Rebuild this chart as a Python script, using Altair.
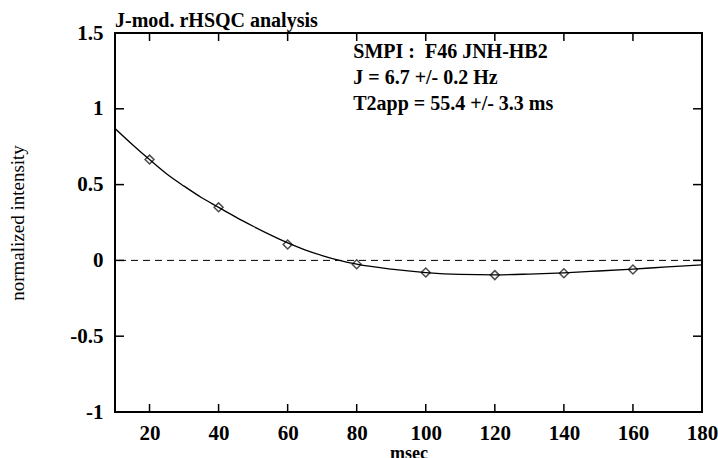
import altair as alt
import pandas as pd

# ---- data ----
point_t = [20, 40, 60, 80, 100, 120, 140, 160]
point_i = [0.665, 0.35, 0.105, -0.025, -0.08, -0.097, -0.085, -0.06]

curve_t = [10, 15, 20, 25, 30, 35, 40, 45, 50, 55, 60, 65, 70, 75, 80,
           90, 100, 110, 120, 130, 140, 150, 160, 170, 180]
curve_i = [0.87, 0.765, 0.665, 0.57, 0.49, 0.415, 0.35, 0.285, 0.225, 0.168,
           0.115, 0.07, 0.032, 0.0, -0.025, -0.058, -0.08, -0.092, -0.095,
           -0.09, -0.082, -0.07, -0.057, -0.043, -0.03]

x_ticks = [20, 40, 60, 80, 100, 120, 140, 160, 180]
y_ticks = [-1, -0.5, 0, 0.5, 1, 1.5]
inner_x_ticks = [20, 40, 60, 80, 100, 120, 140, 160]
inner_y_ticks = [-0.5, 0, 0.5, 1]

notes = ["SMPI :\u00a0\u00a0F46 JNH-HB2", "J = 6.7 +/- 0.2 Hz", "T2app = 55.4 +/- 3.3 ms"]
note_x = [79, 79, 79]
note_y = [1.335, 1.163, 0.992]

title_text = ["J-mod. rHSQC analysis"]

FONT = "Liberation Serif"
W, H = 587, 379

xs = alt.Scale(domain=[10, 180], nice=False, zero=False)
ys = alt.Scale(domain=[-1, 1.5], nice=False, zero=False)

pts = pd.DataFrame({"t": point_t, "i": point_i})
crv = pd.DataFrame({"t": curve_t, "i": curve_i})
xt = pd.DataFrame({"t": inner_x_ticks})
yt = pd.DataFrame({"v": inner_y_ticks})
nt = pd.DataFrame({"txt": notes, "x": note_x, "y": note_y})
tt = pd.DataFrame({"txt": title_text})

xaxis = alt.Axis(values=x_ticks, ticks=False, domain=False, grid=False,
                 labelFont=FONT, labelFontSize=21, labelFontWeight="bold",
                 labelColor="black", labelPadding=10, labelFlush=False,
                 title="msec", titleFont=FONT, titleFontSize=18,
                 titleFontWeight="bold", titleColor="black", titlePadding=1)
yaxis = alt.Axis(values=y_ticks, ticks=False, domain=False, grid=False,
                 labelFont=FONT, labelFontSize=21, labelFontWeight="bold",
                 labelColor="black", labelPadding=12, labelFlush=False,
                 labelExpr="'' + datum.value",
                 title="normalized intensity", titleFont=FONT, titleFontSize=19,
                 titleFontWeight="normal", titleColor="black", titlePadding=42)

line = alt.Chart(crv).mark_line(color="black", strokeWidth=1.3,
                                interpolate="monotone", clip=True).encode(
    x=alt.X("t:Q", scale=xs, axis=xaxis),
    y=alt.Y("i:Q", scale=ys, axis=yaxis),
)

points = alt.Chart(pts).mark_point(shape="diamond", filled=False, color="black",
                                   size=80, strokeWidth=1.5).encode(
    x=alt.X("t:Q", scale=xs),
    y=alt.Y("i:Q", scale=ys),
)

zero = alt.Chart(pd.DataFrame({"z": [0]})).mark_rule(
    color="black", strokeWidth=1, strokeDash=[7, 5]).encode(
    y=alt.Y("z:Q", scale=ys))

tick_style = dict(color="black", strokeWidth=1.5)
bot = alt.Chart(xt).mark_rule(**tick_style).encode(
    x=alt.X("t:Q", scale=xs), y=alt.value(H), y2=alt.value(H - 8))
top = alt.Chart(xt).mark_rule(**tick_style).encode(
    x=alt.X("t:Q", scale=xs), y=alt.value(0), y2=alt.value(8))
lft = alt.Chart(yt).mark_rule(**tick_style).encode(
    y=alt.Y("v:Q", scale=ys), x=alt.value(0), x2=alt.value(9))
rgt = alt.Chart(yt).mark_rule(**tick_style).encode(
    y=alt.Y("v:Q", scale=ys), x=alt.value(W), x2=alt.value(W - 9))

text = alt.Chart(nt).mark_text(font=FONT, fontSize=20, fontWeight="bold",
                               align="left", baseline="alphabetic",
                               color="black").encode(
    x=alt.X("x:Q", scale=xs), y=alt.Y("y:Q", scale=ys), text="txt:N")

title = alt.Chart(tt).mark_text(font=FONT, fontSize=20, fontWeight="bold",
                                align="left", baseline="alphabetic",
                                color="black", clip=False).encode(
    x=alt.value(0), y=alt.value(-6), text="txt:N")

chart = alt.layer(line, zero, points, bot, top, lft, rgt, text, title).properties(
    width=W, height=H,
    autosize=alt.AutoSizeParams(type="none"),
    padding={"left": 115, "top": 33, "right": 16, "bottom": 46},
    background="white",
).configure_view(stroke="black", strokeWidth=2)

chart.save("out.html", embed_options={"renderer": "svg", "actions": False})
